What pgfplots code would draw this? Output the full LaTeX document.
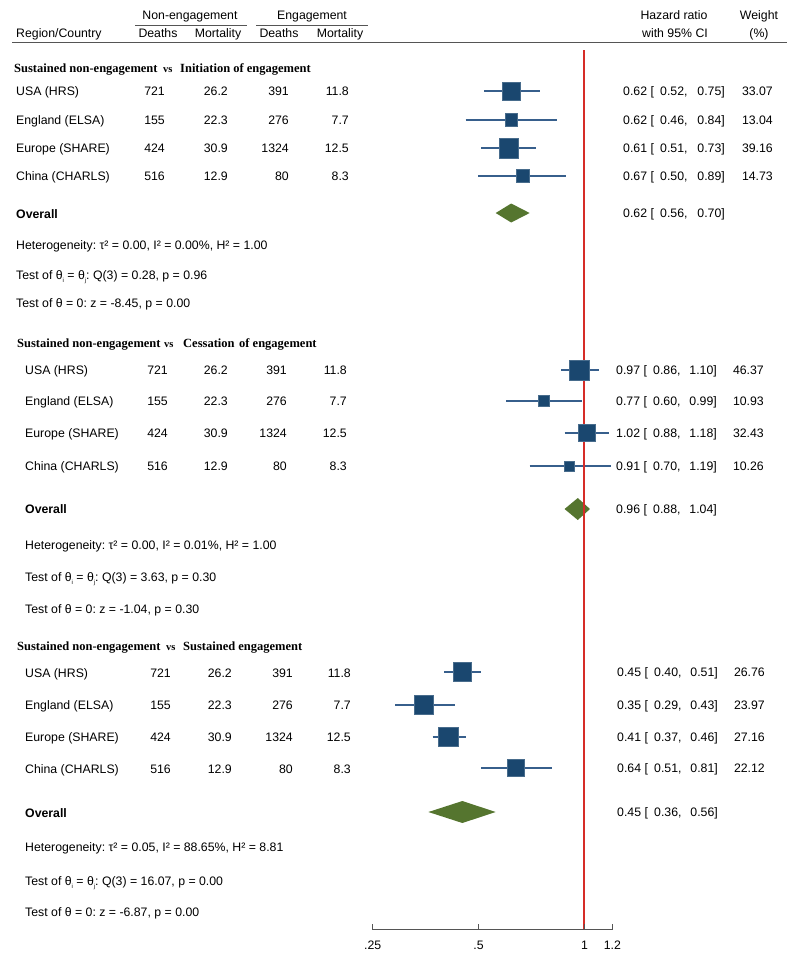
\documentclass[border=0pt]{standalone}
\usepackage{fontspec}
\setmainfont{Liberation Sans}
\newfontfamily\tnr{Liberation Serif}
\usepackage{pgfplots}
\usepackage{pgfplotstable}
\pgfplotsset{compat=1.18}
\definecolor{navy}{RGB}{26,71,111}
\definecolor{ciblue}{RGB}{55,95,140}
\definecolor{forest}{RGB}{85,117,47}
\definecolor{refred}{RGB}{214,45,40}
\definecolor{axgray}{RGB}{85,85,85}
\frenchspacing

\newcommand\fs{\fontsize{12.3}{14}\selectfont}
\newcommand\ft{\tnr\bfseries\fontsize{12.5}{14}\selectfont}
\newcommand\fv{\tnr\bfseries\fontsize{10.5}{12}\selectfont}
\newcommand\TL[3]{\node[anchor=base west,inner sep=0pt,font=\fs] at (#1pt,{(965.6-#2)*1pt}) {#3};}
\newcommand\TR[3]{\node[anchor=base east,inner sep=0pt,font=\fs] at (#1pt,{(965.6-#2)*1pt}) {#3};}
\newcommand\TC[3]{\node[anchor=base,inner sep=0pt,font=\fs] at (#1pt,{(965.6-#2)*1pt}) {#3};}
\newcommand\sub[1]{\raisebox{-0.45ex}{\fontsize{6}{6}\selectfont #1}}
% row: y, label, d1, m1, d2, m2
\newcommand\RowS[6]{\TL{\lx}{#1}{#2}\TR{\ca}{#1}{#3}\TR{\cb}{#1}{#4}\TR{\cc}{#1}{#5}\TR{\cd}{#1}{#6}}
% hr: y, hr, lo, hi, weight
\newcommand\HRr[5]{\TL{\hx}{#1}{#2 [}\TL{\hxb}{#1}{#3,}\TR{\hxc}{#1}{#4]}\TR{\wx}{#1}{#5}}

% study estimates: hazard ratio, CI, row position (px from top), half side of square
\pgfplotstableread{
hr   lo   hi   y   sz
0.62 0.52 0.75 91  9.15
0.62 0.46 0.84 120 6.35
0.61 0.51 0.73 148 9.85
0.67 0.50 0.89 176 6.65
0.97 0.86 1.10 370 10.0
0.77 0.60 0.99 401 5.5
1.02 0.88 1.18 433 8.35
0.91 0.70 1.19 466 5.0
0.45 0.40 0.51 672 9.35
0.35 0.29 0.43 705 9.35
0.41 0.37 0.46 737 9.65
0.64 0.51 0.81 768 8.65
}\studies

% confidence interval segments
\pgfplotstableread{
x y
0.52 91
0.75 91
nan nan
0.46 120
0.84 120
nan nan
0.51 148
0.73 148
nan nan
0.50 176
0.89 176
nan nan
0.86 370
1.10 370
nan nan
0.60 401
0.99 401
nan nan
0.88 433
1.18 433
nan nan
0.70 466
1.19 466
nan nan
0.40 672
0.51 672
nan nan
0.29 705
0.43 705
nan nan
0.37 737
0.46 737
nan nan
0.51 768
0.81 768
}\cis

\begin{document}
\begin{tikzpicture}
\useasboundingbox (0pt,0pt) rectangle (800pt,970pt);
\begin{axis}[at={(0pt,0pt)}, anchor=south west, scale only axis,
  width=800pt, height=970pt, xmode=log, xmin=0.02163, xmax=4.128,
  ymin=0, ymax=970, y dir=reverse, hide axis, clip=false,
  unbounded coords=jump]
\addplot[ciblue, line width=1.2pt] table[x=x,y=y] {\cis};
\addplot[only marks, mark=square*, scatter,
  scatter/use mapped color={draw=navy!80!white, fill=navy},
  visualization depends on={\thisrow{sz} \as \msz},
  scatter/@pre marker code/.append style={/tikz/mark size=\msz},
  mark options={line width=0.5pt}] table[x=hr,y=y] {\studies};
% overall diamonds
\addplot[fill=forest, draw=none] coordinates {(0.56,213) (0.62,203.5) (0.70,213) (0.62,222.5)} -- cycle;
\addplot[fill=forest, draw=none] coordinates {(0.88,509) (0.96,498) (1.04,509) (0.96,520)} -- cycle;
\addplot[fill=forest, draw=none] coordinates {(0.36,812) (0.45,801) (0.56,812) (0.45,823)} -- cycle;
% line of no effect
\addplot[refred, line width=1.8pt] coordinates {(1,50) (1,930)};
\end{axis}

\begin{axis}[at={(372.7pt,40.3pt)}, anchor=south west, scale only axis,
  width=239.6pt, height=10pt, xmode=log, xmin=0.25, xmax=1.2, ymin=0, ymax=1,
  axis x line*=bottom, hide y axis, xtick={0.25,0.5,1,1.2},
  xticklabels={.25,.5,1,1.2}, minor xtick={}, tick align=inside,
  major tick length=6pt, xtick style={axgray, line width=1pt},
  axis line style={axgray, line width=1pt},
  xticklabel style={font=\fs, yshift=-8pt}]
\addplot[draw=none] coordinates {(0.5,0.5)};
\end{axis}

% header
\TC{190}{15}{Non-engagement}
\TC{312}{15}{Engagement}
\draw[axgray, line width=0.9pt] (135pt,945pt) -- (247pt,945pt);
\draw[axgray, line width=0.9pt] (256pt,945pt) -- (368pt,945pt);
\TL{16}{33}{Region/Country}
\TC{158}{33}{Deaths}
\TC{218}{33}{Mortality}
\TC{279}{33}{Deaths}
\TC{340}{33}{Mortality}
\TC{674}{15}{Hazard ratio}
\TC{675}{33}{with 95\% CI}
\TC{759}{15}{Weight}
\TC{759}{33}{(\%)}
\draw[axgray, line width=1.1pt] (12pt,927.3pt) -- (787pt,927.3pt);

% section 1
\node[anchor=base west,inner sep=0pt,font=\ft] at (14pt,{(965.6-68)*1pt}) {Sustained non-engagement};
\node[anchor=base west,inner sep=0pt,font=\fv] at (163pt,{(965.6-68)*1pt}) {vs};
\node[anchor=base west,inner sep=0pt,font=\ft] at (180pt,{(965.6-68)*1pt}) {Initiation of engagement};
\def\lx{16}\def\ca{165}\def\cb{228}\def\cc{289}\def\cd{349}
\def\hx{623}\def\hxb{660}\def\hxc{725}\def\wx{773}
\RowS{91}{USA (HRS)}{721}{26.2}{391}{11.8}
\RowS{120}{England (ELSA)}{155}{22.3}{276}{7.7}
\RowS{148}{Europe (SHARE)}{424}{30.9}{1324}{12.5}
\RowS{176}{China (CHARLS)}{516}{12.9}{80}{8.3}
\HRr{91}{0.62}{0.52}{0.75}{33.07}
\HRr{120}{0.62}{0.46}{0.84}{13.04}
\HRr{148}{0.61}{0.51}{0.73}{39.16}
\HRr{176}{0.67}{0.50}{0.89}{14.73}
\HRr{213}{0.62}{0.56}{0.70}{}
\TL{16}{214}{\textbf{Overall}}
\TL{16}{245}{Heterogeneity: τ² = 0.00, I² = 0.00\%, H² = 1.00}
\TL{16}{275}{Test of θ\sub{i} = θ\sub{j}: Q(3) = 0.28, p = 0.96}
\TL{16}{303}{Test of θ = 0: z = -8.45, p = 0.00}

% section 2
\node[anchor=base west,inner sep=0pt,font=\ft] at (17pt,{(965.6-343)*1pt}) {Sustained non-engagement};
\node[anchor=base west,inner sep=0pt,font=\fv] at (164pt,{(965.6-343)*1pt}) {vs};
\node[anchor=base west,inner sep=0pt,font=\ft] at (183pt,{(965.6-343)*1pt}) {Cessation};
\node[anchor=base west,inner sep=0pt,font=\ft] at (239pt,{(965.6-343)*1pt}) {of engagement};
\def\lx{25}\def\ca{168}\def\cb{228}\def\cc{287}\def\cd{347}
\def\hx{616}\def\hxb{653}\def\hxc{717}\def\wx{764}
\RowS{370}{USA (HRS)}{721}{26.2}{391}{11.8}
\RowS{401}{England (ELSA)}{155}{22.3}{276}{7.7}
\RowS{433}{Europe (SHARE)}{424}{30.9}{1324}{12.5}
\RowS{466}{China (CHARLS)}{516}{12.9}{80}{8.3}
\HRr{370}{0.97}{0.86}{1.10}{46.37}
\HRr{401}{0.77}{0.60}{0.99}{10.93}
\HRr{433}{1.02}{0.88}{1.18}{32.43}
\HRr{466}{0.91}{0.70}{1.19}{10.26}
\HRr{509}{0.96}{0.88}{1.04}{}
\TL{25}{509}{\textbf{Overall}}
\TL{25}{545}{Heterogeneity: τ² = 0.00, I² = 0.01\%, H² = 1.00}
\TL{25}{577}{Test of θ\sub{i} = θ\sub{j}: Q(3) = 3.63, p = 0.30}
\TL{25}{609}{Test of θ = 0: z = -1.04, p = 0.30}

% section 3
\node[anchor=base west,inner sep=0pt,font=\ft] at (17pt,{(965.6-646)*1pt}) {Sustained non-engagement};
\node[anchor=base west,inner sep=0pt,font=\fv] at (166pt,{(965.6-646)*1pt}) {vs};
\node[anchor=base west,inner sep=0pt,font=\ft] at (183pt,{(965.6-646)*1pt}) {Sustained engagement};
\def\lx{25}\def\ca{171}\def\cb{232}\def\cc{293}\def\cd{351}
\def\hx{617}\def\hxb{654}\def\hxc{718}\def\wx{765}
\RowS{673}{USA (HRS)}{721}{26.2}{391}{11.8}
\RowS{705}{England (ELSA)}{155}{22.3}{276}{7.7}
\RowS{737}{Europe (SHARE)}{424}{30.9}{1324}{12.5}
\RowS{769}{China (CHARLS)}{516}{12.9}{80}{8.3}
\HRr{672}{0.45}{0.40}{0.51}{26.76}
\HRr{705}{0.35}{0.29}{0.43}{23.97}
\HRr{737}{0.41}{0.37}{0.46}{27.16}
\HRr{768}{0.64}{0.51}{0.81}{22.12}
\HRr{812}{0.45}{0.36}{0.56}{}
\TL{25}{813}{\textbf{Overall}}
\TL{25}{847}{Heterogeneity: τ² = 0.05, I² = 88.65\%, H² = 8.81}
\TL{25}{881}{Test of θ\sub{i} = θ\sub{j}: Q(3) = 16.07, p = 0.00}
\TL{25}{912}{Test of θ = 0: z = -6.87, p = 0.00}
\end{tikzpicture}
\end{document}
